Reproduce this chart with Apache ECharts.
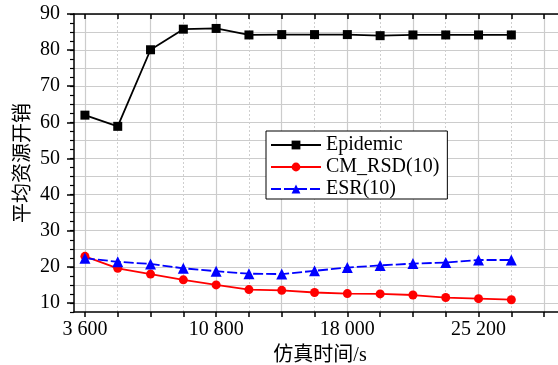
<!DOCTYPE html>
<html>
<head>
<meta charset="utf-8">
<script src="https://cdn.jsdelivr.net/npm/echarts@6/dist/echarts.min.js"></script>
<style>
  html, body { margin: 0; padding: 0; background: #fff; }
  #chart { width: 558px; height: 365px; }
</style>
</head>
<body>
<div id="chart"></div>
<script>
// simulation time (s)
const times = [3600, 5400, 7200, 9000, 10800, 12600, 14400, 16200, 18000, 19800, 21600, 23400, 25200, 27000];
const epidemic = [62.0, 58.9, 80.1, 85.8, 86.0, 84.2, 84.3, 84.3, 84.3, 84.0, 84.2, 84.2, 84.2, 84.2];
const cmRsd = [22.9, 19.6, 18.0, 16.4, 15.0, 13.7, 13.5, 12.9, 12.6, 12.5, 12.2, 11.5, 11.2, 10.9];
const esr = [22.4, 21.4, 20.8, 19.6, 18.8, 18.1, 18.0, 18.9, 19.8, 20.4, 20.9, 21.2, 21.9, 21.9];

const xLabels = [3600, 10800, 18000, 25200];
const xTicks = [3600, 5400, 7200, 9000, 10800, 12600, 14400, 16200, 18000, 19800, 21600, 23400, 25200, 27000, 28800];
const xMinorLines = [5400, 9000, 12600, 16200, 19800, 23400, 27000];
const yLabels = [10, 20, 30, 40, 50, 60, 70, 80, 90];

const serif = 'Liberation Serif, "Times New Roman", serif';
const cjk = 'Liberation Serif, "Noto Sans CJK SC", serif';

const fmt = v => String(v).replace(/(\d)(?=(\d{3})+$)/, '$1 ');
const pair = arr => times.map((t, i) => [t, arr[i]]);

const chart = echarts.init(document.getElementById('chart'));

const xBase = { type: 'value', min: 3000, max: 30000, gridIndex: 0 };
const yBase = { type: 'value', min: 7.5, max: 90, gridIndex: 0 };

chart.setOption({
  animation: false,
  // plot runs past the right edge of the picture
  grid: { left: 74, right: -8, top: 14, bottom: 53, outerBoundsMode: 'none', containLabel: false },
  legend: {
    orient: 'vertical',
    left: 266,
    top: 131,
    padding: [4, 8, 0, 4],
    itemGap: 2,
    itemWidth: 50,
    itemHeight: 11,
    borderColor: '#000',
    borderWidth: 1,
    borderRadius: 0,
    backgroundColor: '#fff',
    textStyle: { fontFamily: serif, fontSize: 20, color: '#000' },
    data: ['Epidemic', 'CM_RSD(10)', 'ESR(10)']
  },
  xAxis: [
    Object.assign({}, xBase, {
      position: 'bottom',
      name: '仿真时间/s',
      nameLocation: 'middle',
      nameGap: 34,
      nameMoveOverlap: false,
      nameTextStyle: { fontFamily: cjk, fontSize: 20, color: '#000' },
      axisLine: { onZero: false, lineStyle: { color: '#000', width: 1.5 } },
      axisTick: { customValues: xTicks, inside: false, length: 5, lineStyle: { color: '#000', width: 1.5 } },
      axisLabel: { customValues: xLabels, formatter: fmt, margin: 8, fontFamily: serif, fontSize: 20, color: '#000' },
      splitLine: { show: true, lineStyle: { color: ['#cccccc', 'rgba(0,0,0,0)'], width: 1.2 } }
    }),
    Object.assign({}, xBase, {
      position: 'bottom',
      axisLine: { show: false },
      axisTick: { show: false, customValues: xMinorLines },
      axisLabel: { show: false },
      splitLine: { show: true, lineStyle: { color: '#cfcfcf', type: [2, 2], width: 1 } }
    }),
    Object.assign({}, xBase, {
      position: 'top',
      axisLine: { onZero: false, lineStyle: { color: '#000', width: 1.5 } },
      axisTick: { customValues: xTicks, inside: true, length: 5, lineStyle: { color: '#000', width: 1.5 } },
      axisLabel: { show: false },
      splitLine: { show: false }
    })
  ],
  yAxis: [
    Object.assign({}, yBase, {
      position: 'left',
      interval: 2.5,
      name: '平均资源开销',
      nameLocation: 'middle',
      nameGap: 40,
      nameMoveOverlap: false,
      nameTextStyle: { fontFamily: cjk, fontSize: 20, color: '#000' },
      axisLine: { show: true, onZero: false, lineStyle: { color: '#000', width: 1.5 } },
      axisTick: { show: true, inside: false, length: 4, lineStyle: { color: '#000', width: 1.2 } },
      axisLabel: { customValues: yLabels, margin: 14, fontFamily: serif, fontSize: 20, color: '#000' },
      splitLine: { show: true, lineStyle: { color: ['rgba(0,0,0,0)', '#cccccc'], width: 1.2 } }
    }),
    Object.assign({}, yBase, {
      position: 'left',
      axisLine: { show: false },
      axisTick: { show: true, customValues: yLabels, inside: false, length: 7, lineStyle: { color: '#000', width: 1.5 } },
      axisLabel: { show: false },
      splitLine: { show: false }
    })
  ],
  series: [
    {
      name: 'Epidemic',
      type: 'line',
      xAxisIndex: 0,
      yAxisIndex: 0,
      data: pair(epidemic),
      symbol: 'rect',
      symbolSize: 9,
      color: '#000',
      lineStyle: { color: '#000', width: 1.8 },
      itemStyle: { color: '#000' }
    },
    {
      name: 'CM_RSD(10)',
      type: 'line',
      xAxisIndex: 0,
      yAxisIndex: 0,
      data: pair(cmRsd),
      symbol: 'circle',
      symbolSize: 9,
      color: '#ff0000',
      lineStyle: { color: '#ff0000', width: 1.8 },
      itemStyle: { color: '#ff0000' }
    },
    {
      name: 'ESR(10)',
      type: 'line',
      xAxisIndex: 0,
      yAxisIndex: 0,
      data: pair(esr),
      symbol: 'triangle',
      symbolSize: 11,
      color: '#0000ff',
      lineStyle: { color: '#0000ff', width: 1.8, type: [10, 3] },
      itemStyle: { color: '#0000ff' }
    }
  ]
});
</script>
</body>
</html>
